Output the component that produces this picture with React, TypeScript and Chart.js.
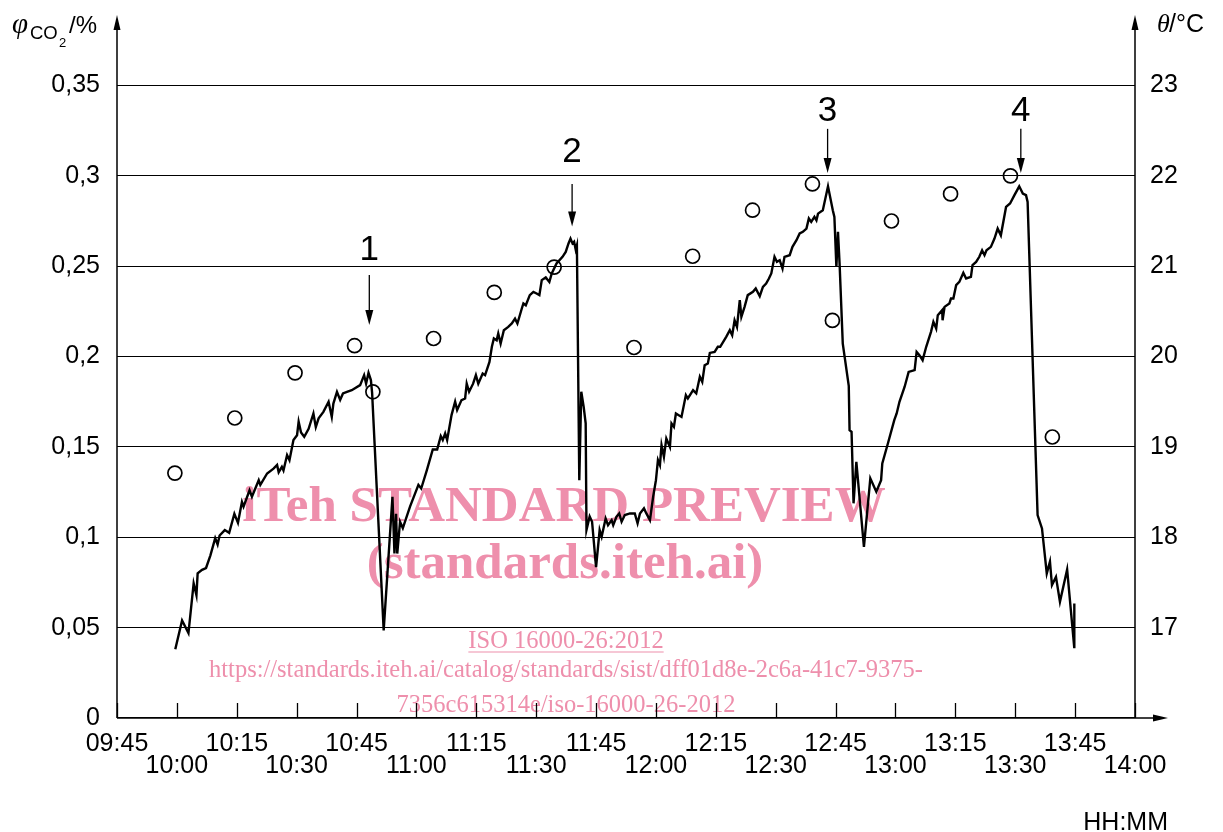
import { useEffect, useRef } from 'react';
import { Chart, registerables } from 'chart.js';

Chart.register(...registerables);

const SANS = '"Liberation Sans", Arial, Helvetica, sans-serif';
const SERIF = '"Liberation Serif", "Times New Roman", serif';
const PINK = '#EE8FAC';

// x axis: minutes after 09:45
const xTickValues = [0, 15, 30, 45, 60, 75, 90, 105, 120, 135, 150, 165, 180, 195, 210, 225, 240, 255];
const xTickLabels = ['09:45', '10:00', '10:15', '10:30', '10:45', '11:00', '11:15', '11:30', '11:45', '12:00', '12:15', '12:30', '12:45', '13:00', '13:15', '13:30', '13:45', '14:00'];
const X_MAX = 255;

const co2TickValues = [0, 0.05, 0.1, 0.15, 0.2, 0.25, 0.3, 0.35];
const co2TickLabels = ['0', '0,05', '0,1', '0,15', '0,2', '0,25', '0,3', '0,35'];
const CO2_MAX = 0.389;

const tempTickValues = [17, 18, 19, 20, 21, 22, 23];
const TEMP_MIN = 16;
const TEMP_MAX = 23.78;

// CO2 volume fraction (%) — solid line
const co2Times = [
  14.6, 16.3, 17.9, 19.2, 19.9, 20.2, 21.3, 22.3, 23.4, 24.6, 25.2, 25.7, 27.0, 28.1, 29.4, 30.3, 31.3, 31.7, 33.2, 33.8,
  35.5, 35.9, 37.6, 39.2, 40.1, 40.5, 41.3, 41.7, 42.6, 43.2, 44.2, 45.1, 45.5, 46.1, 46.9, 48.0, 49.2, 49.8, 50.5, 51.7,
  53.0, 53.8, 54.2, 55.1, 55.9, 56.6, 57.6, 58.8, 60.9, 61.9, 62.4, 63.0, 63.6, 63.9, 66.8,
  69.0, 69.5, 69.9, 70.2, 70.9, 71.6, 73.4, 75.5, 76.2, 77.6, 79.1, 80.2, 81.1, 81.6, 82.2, 82.7, 83.8, 84.7, 85.2, 86.3,
  87.2, 87.6, 88.2, 89.2, 89.9, 90.5, 91.6, 92.2, 93.3, 93.9, 94.4, 95.1, 95.5, 96.1, 96.9, 98.0, 98.9, 99.7, 100.3, 101.4,
  101.8, 102.4, 103.4, 104.3, 105.1, 105.8, 106.4, 107.4, 108.3, 108.9, 110.1, 111.6, 112.4, 113.1, 113.6, 114.1, 114.5,
  114.9, 115.2, 115.8, 116.3, 116.9, 117.4, 117.6, 118.4, 119.0, 120.0,
  120.9, 121.4, 122.4, 123.0, 123.9, 124.3, 125.1, 125.8, 126.4, 127.2, 128.5, 129.7, 130.4, 131.0, 132.0, 132.6, 133.5,
  134.3, 135.0, 135.5, 136.0, 136.4, 137.0, 137.6, 138.5, 138.9, 139.5, 140.0, 141.4, 142.5, 143.0, 144.3, 145.1, 146.0,
  146.6, 147.2, 148.0, 148.5, 149.7, 150.5, 151.1, 152.6, 153.5, 154.1, 154.7, 155.3, 156.0, 156.4, 157.2, 158.0, 159.3,
  160.0, 161.0, 161.8, 162.6, 163.3, 163.9, 164.7, 165.3, 166.0, 166.7, 167.2, 168.5, 169.2, 170.2, 171.0, 171.8, 172.7,
  173.3, 173.9, 174.7, 175.2, 175.6, 176.8, 178.1, 179.3, 179.7, 180.2, 180.6, 181.0, 181.8, 183.3, 183.5, 184.0, 184.5,
  185.2, 187.1,
  188.7, 190.2, 191.4, 191.7, 193.1, 194.7, 195.3, 196.0, 197.3, 198.3, 199.8, 200.3, 201.0, 201.8, 202.7, 203.9, 204.5,
  205.2, 205.6, 206.7, 206.8, 207.3, 208.5, 208.9, 209.5, 210.2, 211.0, 212.0, 212.7, 213.9, 214.3, 215.2, 216.0, 216.7,
  217.3, 217.8, 218.9, 219.8, 220.6, 221.4, 222.7, 223.7, 224.8, 226.0, 226.9, 227.7, 228.1, 230.6, 231.7, 232.9, 233.7,
  234.2, 235.2, 236.2, 238.0, 239.8, 239.8,
];
const co2Values = [
  0.038, 0.054, 0.047, 0.0745, 0.068, 0.080, 0.082, 0.083, 0.090, 0.0995, 0.096, 0.101, 0.104, 0.1025, 0.113, 0.108, 0.1196, 0.117, 0.126, 0.1224,
  0.1316, 0.129, 0.1353, 0.138, 0.140, 0.136, 0.139, 0.137, 0.1455, 0.1427, 0.1538, 0.1565, 0.164, 0.158, 0.1556, 0.160, 0.1685, 0.161, 0.1658, 0.1694,
  0.175, 0.1666, 0.174, 0.1805, 0.176, 0.1796, 0.1805, 0.1814, 0.1842, 0.1897, 0.185, 0.191, 0.187, 0.180, 0.0485,
  0.1224, 0.091, 0.113, 0.091, 0.1086, 0.105, 0.117, 0.129, 0.127, 0.137, 0.1486, 0.1486, 0.156, 0.1538, 0.1575, 0.1538, 0.1676, 0.175, 0.1704, 0.1759,
  0.1768, 0.185, 0.1805, 0.185, 0.1897, 0.185, 0.1906, 0.1897, 0.197, 0.2054, 0.210, 0.209, 0.2128, 0.2072, 0.2146, 0.2164, 0.2183, 0.221, 0.2183, 0.2266,
  0.2294, 0.2284, 0.234, 0.2358, 0.2349, 0.234, 0.2423, 0.2438, 0.2413, 0.246, 0.2515, 0.2552, 0.2579, 0.2626, 0.2653, 0.2626, 0.2635,
  0.2592, 0.2616, 0.1316, 0.1805, 0.1722, 0.163, 0.104, 0.1115, 0.1086, 0.0835,
  0.104, 0.1003, 0.1104, 0.1067, 0.1095, 0.1067, 0.1113, 0.1132, 0.1086, 0.1123, 0.1132, 0.1132, 0.1077, 0.1132, 0.116, 0.1132, 0.1095,
  0.1224, 0.1316, 0.1427, 0.1399, 0.151, 0.1445, 0.1547, 0.150, 0.163, 0.1611, 0.1685, 0.1666, 0.1787, 0.1768, 0.1814, 0.1796, 0.1888,
  0.186, 0.1952, 0.1962, 0.202, 0.2026, 0.2054, 0.2054, 0.2109, 0.2146, 0.2118, 0.2201, 0.2164, 0.2312, 0.222, 0.2275, 0.234, 0.2358,
  0.2377, 0.2334, 0.2386, 0.2404, 0.2432, 0.246, 0.2552, 0.2524, 0.2533, 0.2487, 0.2552, 0.2561, 0.2607, 0.2644, 0.2681, 0.269, 0.2708,
  0.2764, 0.2745, 0.2773, 0.2754, 0.2791, 0.281, 0.2942, 0.281, 0.2773, 0.2496, 0.269, 0.2515, 0.2072, 0.1838, 0.1593, 0.1584, 0.1188,
  0.1418, 0.0947,
  0.1326, 0.1252, 0.1316, 0.1409, 0.1519, 0.1648, 0.1685, 0.175, 0.1833, 0.1915, 0.1925, 0.2026, 0.2008, 0.198, 0.2054, 0.2137, 0.2192,
  0.2155, 0.2229, 0.2257, 0.2201, 0.2275, 0.2293, 0.2321, 0.2321, 0.2395, 0.2413, 0.2463, 0.2432, 0.2441, 0.2506, 0.2524, 0.2552, 0.2588,
  0.2561, 0.2588, 0.2607, 0.2653, 0.2708, 0.2671, 0.2828, 0.2847, 0.2893, 0.2942, 0.2902, 0.2893, 0.2856, 0.1123, 0.1049, 0.080, 0.0865,
  0.0736, 0.0781, 0.0643, 0.0822, 0.0386, 0.0634,
];

// Temperature (°C) — open circles
const tempTimes = [14.5, 29.5, 44.6, 59.5, 64.1, 79.3, 94.5, 109.5, 129.5, 144.2, 159.2, 174.2, 179.2, 194.0, 208.8, 223.8, 234.3];
const tempValues = [18.71, 19.32, 19.82, 20.12, 19.61, 20.20, 20.71, 20.99, 20.10, 21.11, 21.62, 21.91, 20.40, 21.50, 21.80, 22.00, 19.11];

// Numbered markers (ventilation events)
const markerLabels = ['1', '2', '3', '4'];
const markerTimes = [63.2, 114.0, 178.0, 226.4];
const markerTips = [0.2175, 0.2719, 0.3016, 0.3016];
const markerTails = [0.2452, 0.2955, 0.326, 0.326];
const markerTextBase = [0.2535, 0.3079, 0.3306, 0.3306];

function arrowHead(ctx: CanvasRenderingContext2D, tx: number, ty: number, dx: number, dy: number, len: number, half: number) {
  const bx = tx - dx * len;
  const by = ty - dy * len;
  ctx.beginPath();
  ctx.moveTo(tx, ty);
  ctx.lineTo(bx - dy * half, by + dx * half);
  ctx.lineTo(bx + dy * half, by - dx * half);
  ctx.closePath();
  ctx.fill();
}

export default function App() {
  const ref = useRef<HTMLCanvasElement>(null);

  useEffect(() => {
    document.body.style.margin = '0';
    document.body.style.overflow = 'hidden';
    const canvas = ref.current;
    if (!canvas) return;

    const decor = {
      id: 'decor',
      beforeDatasetsDraw(chart: any) {
        const ctx: CanvasRenderingContext2D = chart.ctx;
        ctx.save();
        ctx.fillStyle = PINK;
        ctx.strokeStyle = PINK;
        ctx.textAlign = 'center';
        ctx.textBaseline = 'alphabetic';
        ctx.font = `bold 51px ${SERIF}`;
        ctx.fillText('iTeh STANDARD PREVIEW', 564, 521);
        ctx.fillText('(standards.iteh.ai)', 565, 578);
        ctx.font = `24.5px ${SERIF}`;
        const iso = 'ISO 16000-26:2012';
        ctx.fillText(iso, 566, 648);
        const w = ctx.measureText(iso).width;
        ctx.lineWidth = 1.2;
        ctx.beginPath();
        ctx.moveTo(566 - w / 2, 652);
        ctx.lineTo(566 + w / 2, 652);
        ctx.stroke();
        ctx.fillText('https://standards.iteh.ai/catalog/standards/sist/dff01d8e-2c6a-41c7-9375-', 566, 677);
        ctx.fillText('7356c615314e/iso-16000-26-2012', 566, 712);
        ctx.restore();
      },
      afterDatasetsDraw(chart: any) {
        const ctx: CanvasRenderingContext2D = chart.ctx;
        const { left, right, top, bottom } = chart.chartArea;
        const xs = chart.scales.x;
        const ys = chart.scales.y;
        ctx.save();
        ctx.strokeStyle = '#000';
        ctx.fillStyle = '#000';
        ctx.lineWidth = 1.5;
        // axes
        ctx.beginPath();
        ctx.moveTo(left, bottom);
        ctx.lineTo(left, top + 10);
        ctx.moveTo(right, bottom);
        ctx.lineTo(right, top + 10);
        ctx.moveTo(left, bottom);
        ctx.lineTo(right + 25, bottom);
        ctx.stroke();
        arrowHead(ctx, left, top, 0, -1, 15, 3.5);
        arrowHead(ctx, right, top, 0, -1, 15, 3.5);
        arrowHead(ctx, right + 33, bottom, 1, 0, 15, 3.5);
        // x tick marks (inside)
        ctx.lineWidth = 1.3;
        ctx.beginPath();
        xTickValues.forEach((v) => {
          const px = Math.round(xs.getPixelForValue(v)) + 0.5;
          ctx.moveTo(px, bottom);
          ctx.lineTo(px, bottom - 15);
        });
        ctx.stroke();
        // numbered markers
        ctx.lineWidth = 1.3;
        ctx.textAlign = 'center';
        ctx.textBaseline = 'alphabetic';
        ctx.font = `35px ${SANS}`;
        markerLabels.forEach((lab, i) => {
          const px = xs.getPixelForValue(markerTimes[i]);
          const tip = ys.getPixelForValue(markerTips[i]);
          const tail = ys.getPixelForValue(markerTails[i]);
          const tb = ys.getPixelForValue(markerTextBase[i]);
          ctx.beginPath();
          ctx.moveTo(px, tail);
          ctx.lineTo(px, tip - 10);
          ctx.stroke();
          arrowHead(ctx, px, tip, 0, 1, 15, 4);
          ctx.fillText(lab, px, tb);
        });
        // axis titles
        ctx.textAlign = 'left';
        ctx.font = `italic 29px ${SERIF}`;
        ctx.fillText('φ', 12, 33);
        ctx.font = `18.5px ${SANS}`;
        ctx.fillText('CO', 30, 38.5);
        ctx.font = `13px ${SANS}`;
        ctx.fillText('2', 59, 47);
        ctx.font = `24px ${SANS}`;
        ctx.fillText('/%', 69, 33);
        ctx.font = `italic 26px ${SERIF}`;
        ctx.fillText('θ', 1157, 32);
        ctx.font = `25px ${SANS}`;
        ctx.fillText('/°C', 1169, 32);
        ctx.textAlign = 'right';
        ctx.font = `25px ${SANS}`;
        ctx.fillText('HH:MM', right + 33, 830);
        ctx.restore();
      },
    };

    const chart = new Chart(canvas, {
      type: 'line',
      data: {
        datasets: [
          {
            type: 'line',
            label: 'CO2',
            data: co2Times.map((t, i) => ({ x: t, y: co2Values[i] })),
            borderColor: '#000',
            borderWidth: 2.4,
            pointRadius: 0,
            tension: 0,
            xAxisID: 'x',
            yAxisID: 'y',
          },
          {
            type: 'scatter',
            label: 'Temperature',
            data: tempTimes.map((t, i) => ({ x: t, y: tempValues[i] })),
            borderColor: '#000',
            backgroundColor: 'rgba(0,0,0,0)',
            pointRadius: 7,
            pointBorderWidth: 1.7,
            showLine: false,
            xAxisID: 'x',
            yAxisID: 'y2',
          },
        ] as any,
      },
      options: {
        animation: false,
        responsive: false,
        devicePixelRatio: 1,
        layout: { padding: 0 },
        plugins: { legend: { display: false }, tooltip: { enabled: false } },
        scales: {
          x: {
            type: 'linear',
            min: 0,
            max: X_MAX,
            border: { display: false },
            grid: { display: false, drawTicks: false },
            afterBuildTicks: (s: any) => {
              s.ticks = xTickValues.map((v) => ({ value: v }));
            },
            afterFit: (s: any) => {
              s.height = 114;
            },
            ticks: {
              autoSkip: false,
              maxRotation: 0,
              minRotation: 0,
              padding: 15,
              color: '#000',
              font: { family: SANS, size: 25, lineHeight: '22px' },
              callback: (_v: any, i: number) => (i % 2 === 0 ? [xTickLabels[i], ''] : ['', xTickLabels[i]]),
            },
          },
          y: {
            type: 'linear',
            position: 'left',
            min: 0,
            max: CO2_MAX,
            border: { display: false },
            grid: { color: '#000', lineWidth: 1.1, drawTicks: false },
            afterBuildTicks: (s: any) => {
              s.ticks = co2TickValues.map((v) => ({ value: v }));
            },
            afterFit: (s: any) => {
              s.width = 117;
              s.paddingTop = 15;
              s.paddingBottom = 0;
            },
            ticks: {
              padding: 17,
              color: '#000',
              font: { family: SANS, size: 25, lineHeight: 1 },
              callback: (_v: any, i: number) => co2TickLabels[i],
            },
          },
          y2: {
            type: 'linear',
            position: 'right',
            min: TEMP_MIN,
            max: TEMP_MAX,
            border: { display: false },
            grid: { display: false, drawTicks: false },
            afterBuildTicks: (s: any) => {
              s.ticks = tempTickValues.map((v) => ({ value: v }));
            },
            afterFit: (s: any) => {
              s.width = 88;
              s.paddingTop = 15;
              s.paddingBottom = 0;
            },
            ticks: {
              padding: 15,
              color: '#000',
              font: { family: SANS, size: 25, lineHeight: 1 },
              callback: (v: any) => String(v),
            },
          },
        },
      } as any,
      plugins: [decor],
    });

    return () => chart.destroy();
  }, []);

  return (
    <div style={{ width: 1223, height: 832, overflow: 'hidden' }}>
      <canvas ref={ref} width={1223} height={832} style={{ display: 'block' }} />
    </div>
  );
}
